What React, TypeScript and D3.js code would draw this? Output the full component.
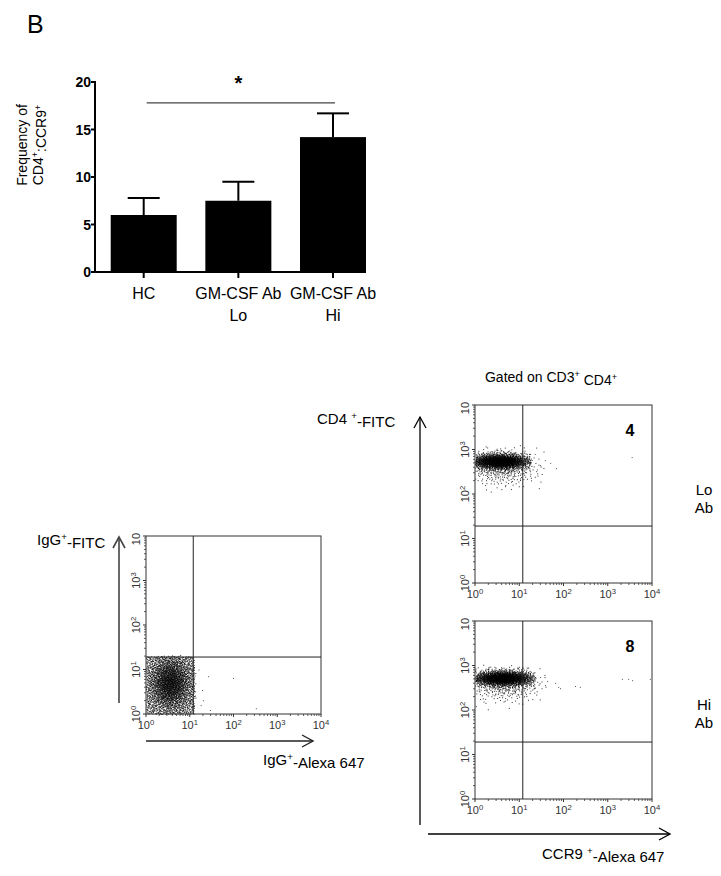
import React from "react";
import * as d3 from "d3";

// ---------- Bar chart data ----------
const categories = ["HC", "GM-CSF Ab Lo", "GM-CSF Ab Hi"];
const catLines = [["HC"], ["GM-CSF Ab", "Lo"], ["GM-CSF Ab", "Hi"]];
const means = [6.0, 7.5, 14.2];
const sems = [1.8, 2.0, 2.5];
const yTicks = [0, 5, 10, 15, 20];
const sigPair = ["HC", "GM-CSF Ab Hi"];
const sigLevel = 17.8;

// ---------- Flow plot data (log10 units) ----------
const decades = [0, 1, 2, 3, 4];
const gateX = 1.08; // log10
const gateY = 1.28; // log10

// cloud descriptors: kind, centre / extent, spread, count
const leftClouds = [
  { kind: "box", x0: 0.0, x1: 1.1, y0: 0.0, y1: 1.3, n: 1500 },
  { kind: "gauss", cx: 0.55, cy: 0.7, sx: 0.24, sy: 0.3, n: 1700, xmax: 1.13, ymax: 1.33 },
];
const leftOutliers = [
  [1.42, 0.85], [1.99, 0.81], [1.28, 0.54], [1.46, 0.09], [2.51, 0.13], [1.3, 0.31], [1.2, 1.0], [1.25, 0.2],
];
const loClouds = [
  { kind: "gauss", cx: 0.55, cy: 2.74, sx: 0.34, sy: 0.085, n: 1900, xmax: 1.25, ymax: 3.2 },
  { kind: "gauss", cx: 0.6, cy: 2.6, sx: 0.42, sy: 0.2, n: 420, xmax: 1.55, ymax: 3.1 },
];
const loOutliers = [
  [1.83, 2.58], [3.54, 2.83], [1.58, 2.76], [1.47, 2.65], [1.35, 2.9], [1.4, 2.55], [1.7, 2.7],
];
const hiClouds = [
  { kind: "gauss", cx: 0.62, cy: 2.72, sx: 0.36, sy: 0.085, n: 1900, xmax: 1.35, ymax: 3.2 },
  { kind: "gauss", cx: 0.65, cy: 2.58, sx: 0.42, sy: 0.19, n: 380, xmax: 1.6, ymax: 3.1 },
];
const hiOutliers = [
  [1.63, 2.65], [1.81, 2.61], [1.88, 2.52], [1.92, 2.49], [2.26, 2.54], [2.37, 2.52],
  [3.32, 2.7], [3.46, 2.7], [3.55, 2.67], [3.95, 2.7], [1.47, 2.74], [1.58, 2.56],
];

const FONT = "'Liberation Sans', Arial, Helvetica, sans-serif";

// deterministic low-discrepancy sequence used to render a density cloud
function halton(i: number, b: number) {
  let f = 1, r = 0;
  while (i > 0) { f /= b; r += f * (i % b); i = Math.floor(i / b); }
  return r;
}

function cloudPoints(clouds: any[], seedOffset: number) {
  const pts: [number, number][] = [];
  let k = 1 + seedOffset;
  clouds.forEach((c) => {
    let made = 0, guard = 0;
    while (made < c.n && guard < c.n * 6) {
      guard++; k++;
      const u = halton(k, 2), v = halton(k, 3);
      let x: number, y: number;
      if (c.kind === "box") {
        x = c.x0 + (c.x1 - c.x0) * u;
        y = c.y0 + (c.y1 - c.y0) * v;
      } else {
        const r = Math.sqrt(-2 * Math.log(Math.max(u, 1e-9)));
        const th = 2 * Math.PI * v;
        x = c.cx + c.sx * r * Math.cos(th);
        y = c.cy + c.sy * r * Math.sin(th);
        if (x < 0 || y < 0 || x > c.xmax || y > c.ymax) continue;
      }
      pts.push([x, y]);
      made++;
    }
  });
  return pts;
}

function Sup({ base, sup, ...rest }: any) {
  return (
    <text {...rest}>
      {base}
      <tspan fontSize="0.7em" dy="-0.5em">{sup}</tspan>
    </text>
  );
}

function FlowPlot({ x0, y0, w, h, clouds, outliers, seed, num }: any) {
  const xs = d3.scaleLinear().domain([0, 4]).range([x0, x0 + w]);
  const ys = d3.scaleLinear().domain([0, 4]).range([y0 + h, y0]);
  const pts = React.useMemo(() => cloudPoints(clouds, seed), []);
  const minor: number[] = [];
  for (let d = 0; d < 4; d++) for (let m = 2; m <= 9; m++) minor.push(d + Math.log10(m));
  const tc = "#333";
  return (
    <g>
      {pts.map((p, i) => (
        <rect key={i} x={xs(p[0])} y={ys(p[1])} width={1} height={1} fill="#000" opacity={0.8} />
      ))}
      {outliers.map((p: number[], i: number) => (
        <rect key={"o" + i} x={xs(p[0])} y={ys(p[1])} width={1} height={1} fill="#555" />
      ))}
      <rect x={x0} y={y0} width={w} height={h} fill="none" stroke="#333" strokeWidth={1} />
      <line x1={xs(gateX)} x2={xs(gateX)} y1={y0} y2={y0 + h} stroke="#222" strokeWidth={1} />
      <line x1={x0} x2={x0 + w} y1={ys(gateY)} y2={ys(gateY)} stroke="#222" strokeWidth={1} />
      {decades.map((d) => (
        <g key={"t" + d}>
          <line x1={xs(d)} x2={xs(d)} y1={y0 + h} y2={y0 + h + 3} stroke={tc} />
          <line x1={x0} x2={x0 - 3} y1={ys(d)} y2={ys(d)} stroke={tc} />
          <Sup base="10" sup={String(d)} x={xs(d)} y={y0 + h + 15} textAnchor="middle" fontSize={11} fill={tc} fontFamily={FONT} />
          {d < 4 ? (
            <Sup base="10" sup={String(d)} transform={`translate(${x0 - 6},${ys(d)}) rotate(-90)`} textAnchor="middle" fontSize={11} fill={tc} fontFamily={FONT} />
          ) : (
            <text transform={`translate(${x0 - 6},${ys(d) + 3}) rotate(-90)`} textAnchor="middle" fontSize={11} fill={tc} fontFamily={FONT}>10</text>
          )}
        </g>
      ))}
      {minor.map((m, i) => (
        <g key={"m" + i}>
          <line x1={xs(m)} x2={xs(m)} y1={y0 + h} y2={y0 + h + 2} stroke={tc} strokeWidth={0.8} />
          <line x1={x0} x2={x0 - 2} y1={ys(m)} y2={ys(m)} stroke={tc} strokeWidth={0.8} />
        </g>
      ))}
      {num ? (
        <text x={x0 + w - 22} y={y0 + 31} fontSize={16} fontWeight="bold" textAnchor="middle" fontFamily={FONT}>{num}</text>
      ) : null}
    </g>
  );
}

function ArrowV({ x, y1, y2, color, sw }: any) {
  return (
    <g stroke={color} strokeWidth={sw} fill="none">
      <line x1={x} x2={x} y1={y1} y2={y2} />
      <polyline points={`${x - 6},${y1 + 11} ${x},${y1} ${x + 6},${y1 + 11}`} />
    </g>
  );
}
function ArrowH({ y, x1, x2, color, sw }: any) {
  return (
    <g stroke={color} strokeWidth={sw} fill="none">
      <line x1={x1} x2={x2} y1={y} y2={y} />
      <polyline points={`${x2 - 11},${y - 6} ${x2},${y} ${x2 - 11},${y + 6}`} />
    </g>
  );
}

export default function App() {
  const y = d3.scaleLinear().domain([0, 20]).range([272, 82]);
  const x = d3.scalePoint().domain(categories).range([143.7, 333]);
  const barW = 66;
  const capW = 32;

  return (
    <svg width={721} height={876} style={{ position: "absolute", left: 0, top: 0, background: "#fff" }} fontFamily={FONT}>
      <rect width={721} height={876} fill="#fff" />
      <text x={27} y={33} fontSize={25}>B</text>

      {/* Bar chart */}
      <g>
        {categories.map((c, i) => {
          const cx = x(c)!;
          return (
            <g key={c}>
              <line x1={cx} x2={cx} y1={y(means[i])} y2={y(means[i] + sems[i])} stroke="#000" strokeWidth={2} />
              <line x1={cx - capW / 2} x2={cx + capW / 2} y1={y(means[i] + sems[i])} y2={y(means[i] + sems[i])} stroke="#000" strokeWidth={2} />
              <rect x={cx - barW / 2} y={y(means[i])} width={barW} height={y(0) - y(means[i])} fill="#000" />
              <line x1={cx} x2={cx} y1={y(0)} y2={y(0) + 6} stroke="#000" strokeWidth={2} />
              {catLines[i].map((t, j) => (
                <text key={j} x={cx} y={299 + j * 22} textAnchor="middle" fontSize={16}>{t}</text>
              ))}
            </g>
          );
        })}
        <line x1={95} x2={95} y1={y(20) - 1} y2={y(0) + 1} stroke="#000" strokeWidth={2} />
        <line x1={94} x2={366} y1={y(0)} y2={y(0)} stroke="#000" strokeWidth={2} />
        {yTicks.map((t) => (
          <g key={t}>
            <line x1={91} x2={95} y1={y(t)} y2={y(t)} stroke="#000" strokeWidth={2} />
            <text x={91} y={y(t) + 5} textAnchor="end" fontSize={14} fontWeight="bold">{t}</text>
          </g>
        ))}
        <line x1={x(sigPair[0])! + 3} x2={x(sigPair[1])! + 2} y1={y(sigLevel)} y2={y(sigLevel)} stroke="#444" strokeWidth={1.2} />
        <text x={(x(sigPair[0])! + x(sigPair[1])!) / 2} y={y(sigLevel) - 13} textAnchor="middle" fontSize={20} fontWeight="bold">*</text>
        <text transform="translate(27,145) rotate(-90)" textAnchor="middle" fontSize={14}>Frequency of</text>
        <text transform="translate(43,145) rotate(-90)" textAnchor="middle" fontSize={14}>
          CD4<tspan fontSize="0.65em" dy="-0.55em">+</tspan><tspan dy="0.55em">:CCR9</tspan><tspan fontSize="0.65em" dy="-0.55em">+</tspan>
        </text>
      </g>

      {/* Left control plot */}
      <FlowPlot x0={146} y0={536} w={175} h={178} clouds={leftClouds} outliers={leftOutliers} seed={0} />
      <ArrowV x={119} y1={537} y2={703} color="#444" sw={1.6} />
      <ArrowH y={741} x1={146} x2={313} color="#222" sw={1.4} />
      <text x={37} y={545} fontSize={15}>IgG<tspan fontSize="0.65em" dy="-0.55em">+</tspan><tspan dy="0.55em">-FITC</tspan></text>
      <text x={263} y={765} fontSize={15}>IgG<tspan fontSize="0.65em" dy="-0.55em">+</tspan><tspan dy="0.55em">-Alexa 647</tspan></text>

      {/* Right plots */}
      <text x={551} y={382} textAnchor="middle" fontSize={14}>
        Gated on CD3<tspan fontSize="0.65em" dy="-0.55em">+</tspan><tspan dy="0.55em"> CD4</tspan><tspan fontSize="0.65em" dy="-0.55em">+</tspan>
      </text>
      <FlowPlot x0={475} y0={405} w={177} h={178} clouds={loClouds} outliers={loOutliers} seed={5000} num="4" />
      <FlowPlot x0={475} y0={621} w={177} h={178} clouds={hiClouds} outliers={hiOutliers} seed={11000} num="8" />
      <ArrowV x={420} y1={417} y2={825} color="#000" sw={1.3} />
      <ArrowH y={834} x1={428} x2={670} color="#000" sw={1.3} />
      <text x={317} y={424} fontSize={15}>CD4 <tspan fontSize="0.65em" dy="-0.55em">+</tspan><tspan dy="0.55em">-FITC</tspan></text>
      <text x={542} y={859} fontSize={15}>CCR9 <tspan fontSize="0.65em" dy="-0.55em">+</tspan><tspan dy="0.55em">-Alexa 647</tspan></text>
      <text x={704} y={495} textAnchor="middle" fontSize={15}>Lo</text>
      <text x={704} y={513} textAnchor="middle" fontSize={15}>Ab</text>
      <text x={704} y={710} textAnchor="middle" fontSize={15}>Hi</text>
      <text x={704} y={728} textAnchor="middle" fontSize={15}>Ab</text>
    </svg>
  );
}
